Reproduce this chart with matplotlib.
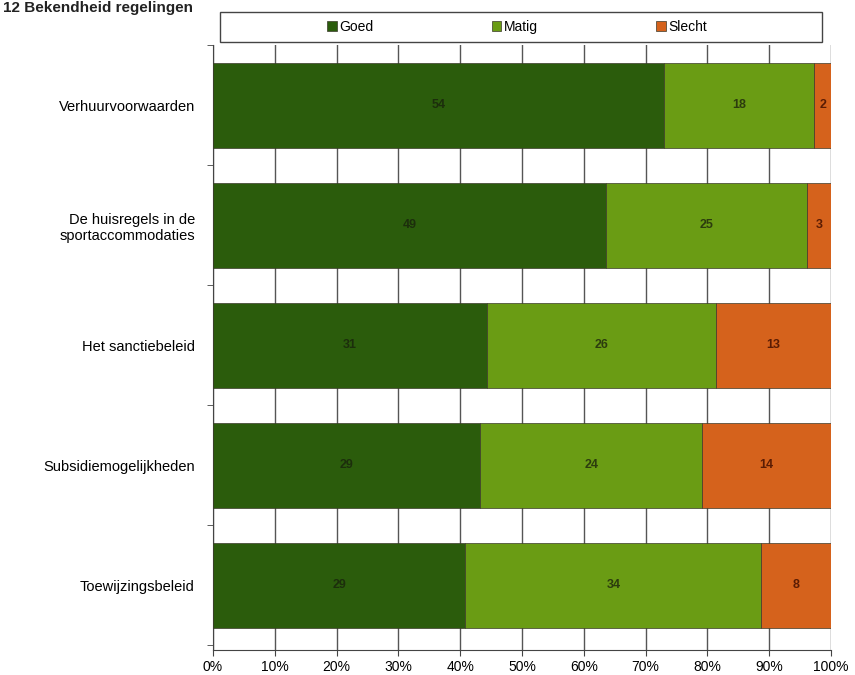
import matplotlib.pyplot as plt
import numpy as np
from matplotlib.patches import Rectangle

plt.rcParams['font.family'] = ['Liberation Sans', 'DejaVu Sans']

categorieen = ['Verhuurvoorwaarden', 'De huisregels in de\nsportaccommodaties',
               'Het sanctiebeleid', 'Subsidiemogelijkheden', 'Toewijzingsbeleid']
goed = [54, 49, 31, 29, 29]
matig = [18, 25, 26, 24, 34]
slecht = [2, 3, 13, 14, 8]
reeksen = ['Goed', 'Matig', 'Slecht']
kleuren = ['#2b5c0c', '#6a9c14', '#d5621c']
tekstkleuren = ['#1c2e0c', '#2c3c0e', '#5a1c04']
xticks = ['0%', '10%', '20%', '30%', '40%', '50%', '60%', '70%', '80%', '90%', '100%']

fig = plt.figure(figsize=(8.55, 6.75), dpi=100)
ax = fig.add_axes([0.249, 0.037, 0.723, 0.896])

waarden = np.array([goed, matig, slecht], dtype=float)
totaal = waarden.sum(axis=0)
aandeel = waarden / totaal
y = np.arange(len(categorieen))
links = np.zeros(len(categorieen))
for i in range(3):
    ax.barh(y, aandeel[i], left=links, height=0.71, color=kleuren[i],
            edgecolor='#3a3a2a', linewidth=0.5, label=reeksen[i], zorder=3)
    for j in range(len(categorieen)):
        ax.text(links[j] + aandeel[i][j] / 2, y[j], str(int(waarden[i][j])),
                ha='center', va='center', fontsize=9, fontweight='bold',
                color=tekstkleuren[i], zorder=4)
    links += aandeel[i]

ax.set_xlim(0, 1)
ax.set_ylim(4.54, -0.5)
ax.set_xticks(np.linspace(0, 1, 11))
ax.set_xticklabels(xticks, fontsize=10)
ax.set_yticks(y)
ax.set_yticklabels(categorieen, fontsize=10.5, ha='right', multialignment='right')
ax.set_yticks(np.arange(-0.5, 5, 1), minor=True)
ax.tick_params(axis='y', which='major', length=0, pad=13)
ax.tick_params(axis='y', which='minor', length=4, direction='out', color='#444444')
ax.tick_params(axis='x', length=4, direction='out', color='#444444')
ax.grid(axis='x', color='#555555', linewidth=1, zorder=0)
ax.spines['top'].set_visible(False)
ax.spines['right'].set_visible(False)
ax.spines['left'].set_color('#444444')
ax.spines['bottom'].set_color('#444444')

# kader voor de legenda
fig.add_artist(Rectangle((0.257, 0.938), 0.704, 0.044, transform=fig.transFigure,
                         facecolor='white', edgecolor='#444444', linewidth=1))
fig.legend(loc='center', bbox_to_anchor=(0.605, 0.960), ncol=3, frameon=False,
           fontsize=10, handlelength=0.7, handleheight=0.7, handletextpad=0.2,
           columnspacing=8.5)

fig.text(0.003, 0.999, '12 Bekendheid regelingen', fontsize=11, fontweight='bold',
         ha='left', va='top', color='#222222')

plt.savefig('out.png', dpi=100)
